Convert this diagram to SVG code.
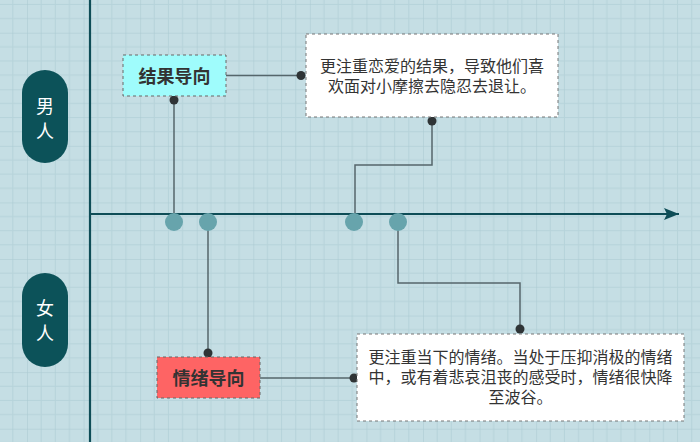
<svg xmlns="http://www.w3.org/2000/svg" width="700" height="442" viewBox="0 0 700 442">
<style>
.pill{fill:#0c5259}
.pilltxt{font-family:"Liberation Sans","Noto Sans CJK SC",sans-serif;font-size:18px;fill:#ffffff;text-anchor:middle}
.lbl{font-family:"Liberation Sans","Noto Sans CJK SC",sans-serif;font-size:18px;font-weight:bold;fill:#333333;text-anchor:middle}
.note{fill:#ffffff;stroke:#777777;stroke-width:1;stroke-dasharray:3 3}
.box{stroke:#666666;stroke-width:1;stroke-dasharray:3 3}
.notetxt{font-family:"Liberation Sans","Noto Sans CJK SC",sans-serif;font-size:16px;fill:#333333;text-anchor:middle}
.conn{fill:none;stroke:#55666b;stroke-width:1.5}
.dot{fill:#2f3436}
.evt{fill:#67a4ac}
.axis{stroke:#0e4d57;stroke-width:2.2;fill:none}
</style>
<defs>
<pattern id="grid" patternUnits="userSpaceOnUse" x="27" y="32.7" width="56.57" height="56.57">
<rect width="56.57" height="56.57" fill="#c5dee4"/>
<path d="M14.14 0V56.57M28.28 0V56.57M42.43 0V56.57M0 14.14H56.57M0 28.28H56.57M0 42.43H56.57" stroke="#b6d3da" stroke-width="1"/>
<path d="M0 0V56.57M0 0H56.57" stroke="#a9c9d1" stroke-width="1"/>
</pattern>
<marker id="arrow" markerWidth="16" markerHeight="12" refX="15" refY="6" orient="auto" markerUnits="userSpaceOnUse">
<path d="M0 0L15 6L0 12L3 6Z" fill="#0e4d57"/>
</marker>
</defs>
<rect width="700" height="442" fill="url(#grid)"/>

<g id="axes">
<line class="axis" x1="90" y1="0" x2="90" y2="442"/>
<line class="axis" x1="90" y1="214" x2="679" y2="214" marker-end="url(#arrow)"/>
</g>

<g id="connectors">
<path class="conn" d="M174 100V214"/>
<path class="conn" d="M226 75.5H300"/>
<path class="conn" d="M432 121V165H355V214"/>
<path class="conn" d="M208 222V353"/>
<path class="conn" d="M260 378H354"/>
<path class="conn" d="M520 329V283H398V222"/>
<circle class="dot" cx="174" cy="100" r="4.5"/>
<circle class="dot" cx="301" cy="75.5" r="4.5"/>
<circle class="dot" cx="432" cy="121" r="4.5"/>
<circle class="dot" cx="208" cy="353" r="4.5"/>
<circle class="dot" cx="354" cy="378" r="4.5"/>
<circle class="dot" cx="520" cy="329" r="4.5"/>
</g>

<g id="events">
<circle class="evt" cx="174" cy="222" r="9"/>
<circle class="evt" cx="208" cy="222" r="9"/>
<circle class="evt" cx="354" cy="222" r="9"/>
<circle class="evt" cx="398" cy="222" r="9"/>
</g>

<g id="man">
<rect class="pill" x="22" y="70" width="46" height="93" rx="23" ry="23"/>
<text class="pilltxt" x="45" y="113">男<tspan x="45" dy="25">人</tspan></text>
</g>

<g id="woman">
<rect class="pill" x="22" y="273" width="46" height="94" rx="23" ry="23"/>
<text class="pilltxt" x="45" y="315">女<tspan x="45" dy="25">人</tspan></text>
</g>

<g id="result-oriented">
<rect class="box" x="123" y="55" width="103" height="41" fill="#9ffcfc"/>
<text class="lbl" x="174.5" y="82.5">结果导向</text>
</g>

<g id="emotion-oriented">
<rect class="box" x="157" y="357" width="103" height="41" fill="#fe6464"/>
<text class="lbl" x="208.5" y="384.5">情绪导向</text>
</g>

<g id="note-man">
<rect class="note" x="306" y="34" width="252" height="83"/>
<text class="notetxt" x="432" y="72">更注重恋爱的结果，导致他们喜<tspan x="432" dy="19.8">欢面对小摩擦去隐忍去退让。</tspan></text>
</g>

<g id="note-woman">
<rect class="note" x="357" y="334" width="327" height="87"/>
<text class="notetxt" x="520.5" y="363">更注重当下的情绪。当处于压抑消极的情绪<tspan x="520.5" dy="20">中，或有着悲哀沮丧的感受时，情绪很快降</tspan><tspan x="520.5" dy="20">至波谷。</tspan></text>
</g>
</svg>
